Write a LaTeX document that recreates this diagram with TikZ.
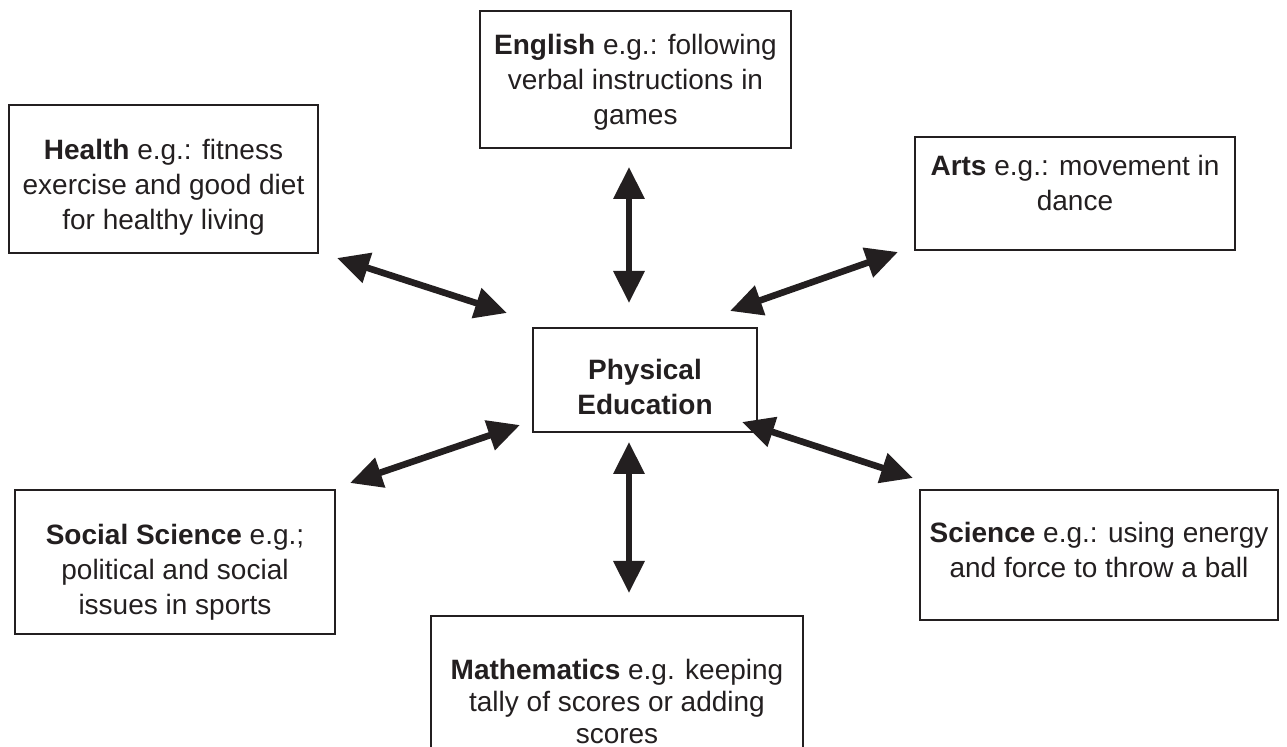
\documentclass[tikz,border=0pt]{standalone}
\usepackage{fontspec}
\setmainfont{Liberation Sans}
\usetikzlibrary{arrows.meta}
\definecolor{ink}{HTML}{231F20}
\begin{document}
\begin{tikzpicture}[x=0.5pt,y=-0.5pt,
  box/.style={draw=ink,line width=1.1pt,inner sep=0pt},
  txt/.style={text=ink,align=center,inner sep=0pt,
    font=\fontsize{14}{17.5}\selectfont},
  link/.style={draw=ink,line width=3.3pt,{Triangle[length=16pt,width=15pt]}-{Triangle[length=16pt,width=15pt]}}]
\useasboundingbox (0,0) rectangle (1287,747);
\begin{scope}
\clip (0,0) rectangle (1287,747);
\node[box,minimum width=155.5pt,minimum height=68.5pt] (eng) at (635.5,79.5) {};
\node[txt] (engT) at (635.5,82.5)
  {\textbf{English} e.g.: following\\verbal instructions in\\games};
\node[box,minimum width=154.5pt,minimum height=74pt] (hea) at (163.5,179) {};
\node[txt] (heaT) at (163.5,187)
  {\textbf{Health} e.g.: fitness\\exercise and good diet\\for healthy living};
\node[box,minimum width=160pt,minimum height=56.5pt] (art) at (1075,193.5) {};
\node[txt] (artT) at (1075,183)
  {\textbf{Arts} e.g.: movement in\\dance};
\node[box,minimum width=112pt,minimum height=52pt] (pe) at (645,380) {};
\node[txt] (peT) at (645,387)
  {\textbf{Physical}\\\textbf{Education}};
\node[box,minimum width=160pt,minimum height=72pt] (soc) at (175,562) {};
\node[txt] (socT) at (175,572)
  {\textbf{Social Science} e.g.;\\political and social\\issues in sports};
\node[box,minimum width=179pt,minimum height=65pt] (sci) at (1099,555) {};
\node[txt] (sciT) at (1099,550)
  {\textbf{Science} e.g.: using energy\\and force to throw a ball};
\node[box,minimum width=186pt,minimum height=89pt] (mat) at (617,705) {};
\node[txt,font=\fontsize{14}{16}\selectfont] (matT) at (617,701)
  {\textbf{Mathematics} e.g. keeping\\tally of scores or adding\\scores};
\end{scope}
% arrow end points
\coordinate (eA) at (629,167);  \coordinate (eB) at (629,303);
\coordinate (hA) at (337,258);  \coordinate (hB) at (507,313);
\coordinate (aA) at (898,252);  \coordinate (aB) at (730,311);
\coordinate (sA) at (350,483);  \coordinate (sB) at (520,425);
\coordinate (cA) at (742,422);  \coordinate (cB) at (913,478);
\coordinate (mA) at (629,442);  \coordinate (mB) at (629,593);
\draw[link] (eA) -- (eB);
\draw[link] (hA) -- (hB);
\draw[link] (aA) -- (aB);
\draw[link] (sA) -- (sB);
\draw[link] (cA) -- (cB);
\draw[link] (mA) -- (mB);
\end{tikzpicture}
\end{document}
